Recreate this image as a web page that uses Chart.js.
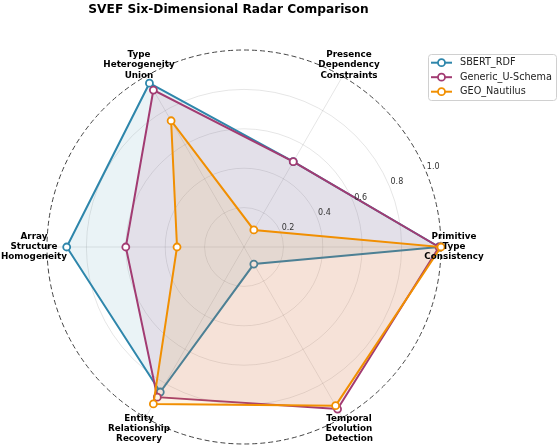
<!DOCTYPE html>
<html>
<head>
<meta charset="utf-8">
<script src="https://cdn.jsdelivr.net/npm/chart.js@4.4.0/dist/chart.umd.min.js"></script>
<style>
  html, body { margin: 0; padding: 0; background: #fff; }
  #wrap { width: 559px; height: 447px; }
</style>
</head>
<body>
<div id="wrap"><canvas id="radarChart" width="559" height="447"></canvas></div>
<script>
// Dimensions listed clockwise from the right, since Chart.js goes clockwise
const dimensions = [
    ['Primitive', 'Type', 'Consistency'],
    ['Temporal', 'Evolution', 'Detection'],
    ['Entity', 'Relationship', 'Recovery'],
    ['Array', 'Structure', 'Homogeneity'],
    ['Type', 'Heterogeneity', 'Union'],
    ['Presence', 'Dependency', 'Constraints']
];
const seriesNames = ['SBERT_RDF', 'Generic_U-Schema', 'GEO_Nautilus'];
const sbertRdf = [0.99, 0.10, 0.85, 0.90, 0.96, 0.50];
const genericUSchema = [0.99, 0.95, 0.88, 0.60, 0.92, 0.50];
const geoNautilus = [1.00, 0.93, 0.92, 0.34, 0.74, 0.10];
const tickValues = [0.2, 0.4, 0.6, 0.8, 1.0];
const tickLabels = ['0.2', '0.4', '0.6', '0.8', '1.0'];
const chartTitle = 'SVEF Six-Dimensional Radar Comparison';

const seriesColors = ['#2E86AB', '#A23B72', '#F18F01'];
const seriesFills = ['rgba(46, 134, 171, 0.1)', 'rgba(162, 59, 114, 0.1)', 'rgba(241, 143, 1, 0.1)'];
const FONT = '"DejaVu Sans", Verdana, sans-serif';

function makeDataset(i, values) {
    return {
        label: seriesNames[i],
        data: values,
        order: 3 - i, // later series drawn on top
        fill: true,
        backgroundColor: seriesFills[i],
        borderColor: seriesColors[i],
        borderWidth: 2,
        pointRadius: 3.5,
        pointBackgroundColor: '#ffffff',
        pointBorderColor: seriesColors[i],
        pointBorderWidth: 1.8
    };
}

// Title, tick labels, axis labels and legend drawn on top of the radar
const svefDecor = {
    id: 'svefDecor',
    afterDraw(chart) {
        const ctx = chart.ctx;
        const r = chart.scales.r;
        ctx.save();

        // radial tick labels at ~23 degrees
        ctx.font = '8px ' + FONT;
        ctx.fillStyle = '#333';
        ctx.textAlign = 'center';
        ctx.textBaseline = 'middle';
        const a = 23 * Math.PI / 180;
        tickValues.forEach((v, i) => {
            const d = r.getDistanceFromCenterForValue(v) + 8.5;
            ctx.fillText(tickLabels[i], r.xCenter + d * Math.cos(a), r.yCenter - d * Math.sin(a));
        });

        // axis labels centred just beyond the outer ring
        ctx.font = 'bold 8.8px ' + FONT;
        ctx.fillStyle = '#000';
        dimensions.forEach((lines, i) => {
            const p = r.getPointPosition(i, r.drawingArea + 13);
            lines.forEach((txt, k) => {
                ctx.fillText(txt, p.x, p.y + (k - 1) * 10.2);
            });
        });

        // title
        ctx.font = 'bold 12.2px ' + FONT;
        ctx.textBaseline = 'alphabetic';
        ctx.fillText(chartTitle, 228.5, 12.5);

        // legend box
        const lx = 428.5, ly = 54.5, lw = 128, lh = 46, rad = 3;
        ctx.beginPath();
        ctx.moveTo(lx + rad, ly);
        ctx.lineTo(lx + lw - rad, ly);
        ctx.arcTo(lx + lw, ly, lx + lw, ly + rad, rad);
        ctx.lineTo(lx + lw, ly + lh - rad);
        ctx.arcTo(lx + lw, ly + lh, lx + lw - rad, ly + lh, rad);
        ctx.lineTo(lx + rad, ly + lh);
        ctx.arcTo(lx, ly + lh, lx, ly + lh - rad, rad);
        ctx.lineTo(lx, ly + rad);
        ctx.arcTo(lx, ly, lx + rad, ly, rad);
        ctx.closePath();
        ctx.fillStyle = 'rgba(255,255,255,0.85)';
        ctx.fill();
        ctx.strokeStyle = '#d0d0d0';
        ctx.lineWidth = 1;
        ctx.stroke();

        chart.data.datasets.forEach((ds, i) => {
            const y = 62.7 + i * 14.5;
            ctx.strokeStyle = ds.borderColor;
            ctx.lineWidth = 2;
            ctx.beginPath();
            ctx.moveTo(431, y);
            ctx.lineTo(452, y);
            ctx.stroke();
            ctx.beginPath();
            ctx.arc(441.5, y, 3.5, 0, Math.PI * 2);
            ctx.fillStyle = '#fff';
            ctx.fill();
            ctx.lineWidth = 1.8;
            ctx.stroke();
            ctx.font = '9.7px ' + FONT;
            ctx.fillStyle = '#222';
            ctx.textAlign = 'left';
            ctx.textBaseline = 'middle';
            ctx.fillText(ds.label, 460, y);
        });

        ctx.restore();
    }
};

new Chart(document.getElementById('radarChart').getContext('2d'), {
    type: 'radar',
    data: {
        labels: dimensions.map(l => l.join(' ')),
        datasets: [
            makeDataset(0, sbertRdf),
            makeDataset(1, genericUSchema),
            makeDataset(2, geoNautilus)
        ]
    },
    options: {
        responsive: false,
        animation: false,
        devicePixelRatio: 1,
        layout: {
            padding: { left: 47, top: 50, right: 118, bottom: 3 }
        },
        elements: {
            line: { tension: 0 }
        },
        scales: {
            r: {
                min: 0,
                max: 1,
                startAngle: 90,
                ticks: { display: false, stepSize: 0.2 },
                pointLabels: { display: false },
                angleLines: { color: 'rgba(0,0,0,0.1)', lineWidth: 1 },
                grid: {
                    circular: true,
                    color: ctx => ctx.tick && ctx.tick.value === 1 ? '#444' : 'rgba(0,0,0,0.1)',
                    lineWidth: 1
                },
                border: {
                    dash: ctx => ctx.tick && ctx.tick.value === 1 ? [5, 3] : []
                }
            }
        },
        plugins: {
            legend: { display: false },
            title: { display: false },
            tooltip: { enabled: false }
        }
    },
    plugins: [svefDecor]
});
</script>
</body>
</html>
